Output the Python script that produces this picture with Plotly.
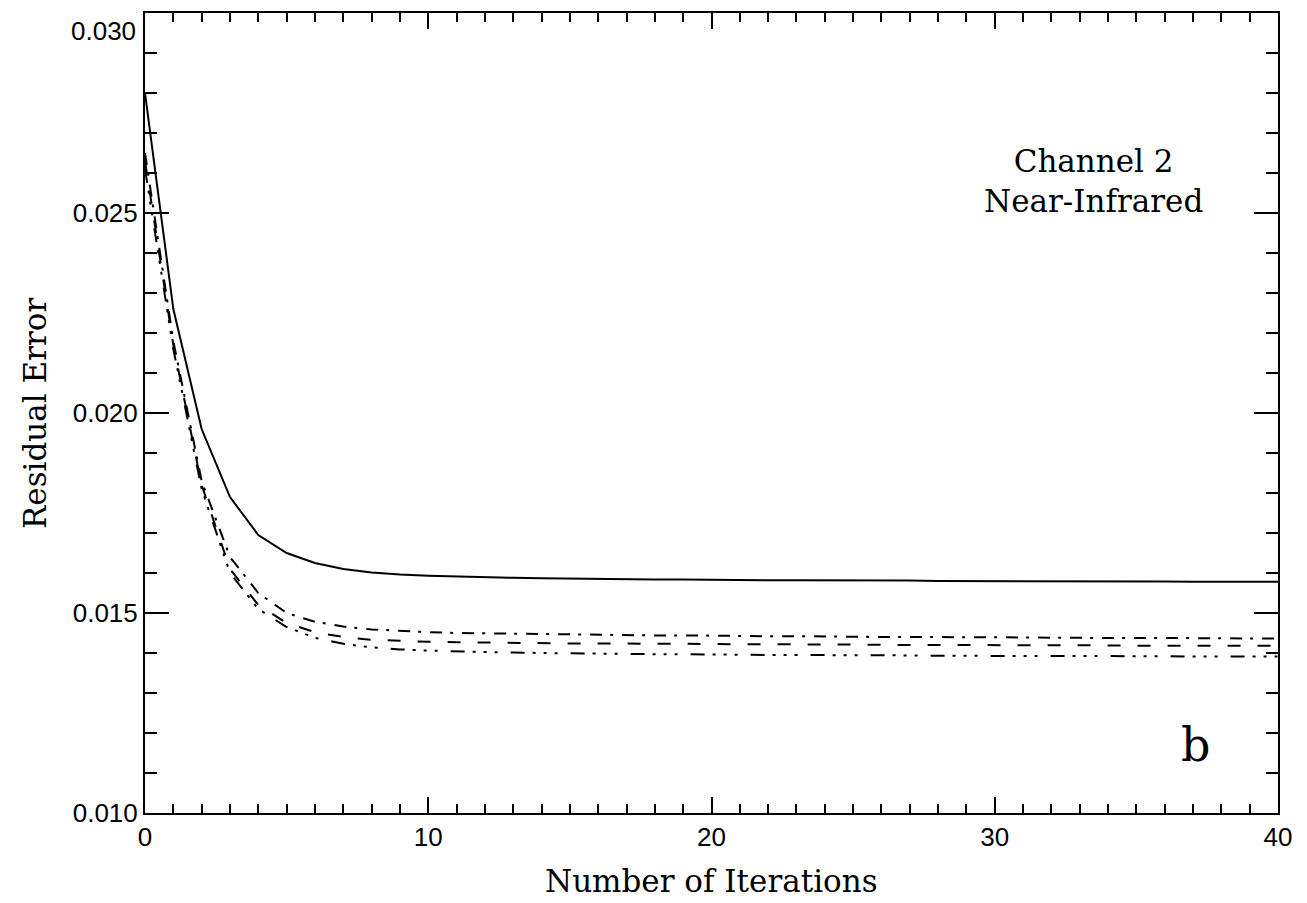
import plotly.graph_objects as go

iterations = list(range(0, 41))

solid_err = [0.02800, 0.02260, 0.01960, 0.01790, 0.01695, 0.01650, 0.01625, 0.01610, 0.01601, 0.01596,
             0.01593, 0.01591, 0.01589, 0.01588, 0.01587, 0.01586, 0.01585, 0.01585, 0.01584, 0.01584,
             0.01583, 0.01583, 0.01582, 0.01582, 0.01582, 0.01581, 0.01581, 0.01581, 0.01580, 0.01580,
             0.01580, 0.01580, 0.01579, 0.01579, 0.01579, 0.01579, 0.01579, 0.01578, 0.01578, 0.01578,
             0.01578]

dashdot_err = [0.02650, 0.02180, 0.01830, 0.01640, 0.01550, 0.01500, 0.01478, 0.01466, 0.01459, 0.01455,
               0.01452, 0.01450, 0.01449, 0.01448, 0.01447, 0.01446, 0.01445, 0.01445, 0.01444, 0.01444,
               0.01443, 0.01443, 0.01442, 0.01442, 0.01441, 0.01441, 0.01440, 0.01440, 0.01440, 0.01439,
               0.01439, 0.01439, 0.01438, 0.01438, 0.01438, 0.01438, 0.01437, 0.01437, 0.01437, 0.01436,
               0.01436]

dashed_err = [0.02630, 0.02170, 0.01820, 0.01610, 0.01520, 0.01475, 0.01452, 0.01440, 0.01433, 0.01430,
              0.01428, 0.01427, 0.01426, 0.01425, 0.01425, 0.01424, 0.01424, 0.01423, 0.01423, 0.01423,
              0.01422, 0.01422, 0.01422, 0.01421, 0.01421, 0.01421, 0.01420, 0.01420, 0.01420, 0.01420,
              0.01419, 0.01419, 0.01419, 0.01419, 0.01419, 0.01418, 0.01418, 0.01418, 0.01418, 0.01418,
              0.01418]

dash3dot_err = [0.02610, 0.02160, 0.01810, 0.01600, 0.01510, 0.01465, 0.01438, 0.01423, 0.01414, 0.01409,
                0.01406, 0.01404, 0.01402, 0.01401, 0.01400, 0.01399, 0.01398, 0.01398, 0.01397, 0.01397,
                0.01396, 0.01396, 0.01395, 0.01395, 0.01395, 0.01394, 0.01394, 0.01394, 0.01393, 0.01393,
                0.01393, 0.01393, 0.01392, 0.01392, 0.01392, 0.01392, 0.01392, 0.01391, 0.01391, 0.01391,
                0.01391]

x_ticks = [0, 10, 20, 30, 40]
y_ticks = [0.010, 0.015, 0.020, 0.025, 0.030]
y_tick_text = ["0.010", "0.015", "0.020", "0.025", "0.030"]

fig = go.Figure()

styles = [
    (solid_err, "solid"),
    (dashdot_err, "12px,8px,3px,9px"),
    (dashed_err, "13px,17px"),
    (dash3dot_err, "14px,8px,3px,8px,3px,8px,3px,13px"),
]
for ys, dash in styles:
    fig.add_trace(go.Scatter(x=iterations, y=ys, mode="lines",
                             line=dict(color="black", width=2, dash=dash),
                             showlegend=False, hoverinfo="skip"))

tick_font = dict(family="Liberation Sans, Arial, sans-serif", size=26, color="black")
serif = "DejaVu Serif, serif"

# the top label sits just below its tick in the reference, so it is drawn as an annotation
axis_text = y_tick_text[:-1] + [""]

fig.update_xaxes(range=[0, 40], tickvals=x_ticks, ticktext=[str(v) for v in x_ticks],
                 showline=True, linecolor="black", linewidth=2, mirror="ticks",
                 ticks="inside", ticklen=16, tickwidth=2, tickcolor="black",
                 minor=dict(dtick=1, ticks="inside", ticklen=9, tickwidth=2, tickcolor="black"),
                 showgrid=False, zeroline=False, tickfont=tick_font,
                 ticklabeloverflow="allow", automargin=False)
fig.update_yaxes(range=[0.010, 0.0300005], tickvals=y_ticks, ticktext=axis_text,
                 showline=True, linecolor="black", linewidth=2, mirror="ticks",
                 ticks="inside", ticklen=24, tickwidth=2, tickcolor="black",
                 minor=dict(dtick=0.001, tick0=0.010, ticks="inside", ticklen=12, tickwidth=2, tickcolor="black"),
                 showgrid=False, zeroline=False, tickfont=tick_font,
                 ticklabeloverflow="allow", automargin=False)

fig.add_annotation(text=y_tick_text[-1], xref="paper", yref="y", x=0, y=y_ticks[-1],
                   xanchor="right", yanchor="top", xshift=-7, yshift=-1, showarrow=False,
                   font=tick_font)
fig.add_annotation(text="Number of Iterations", xref="paper", yref="paper", x=0.5, y=0,
                   yshift=-68, showarrow=False, yanchor="middle",
                   font=dict(family=serif, size=31, color="black"))
fig.add_annotation(text="Residual Error", xref="paper", yref="paper", x=0, y=0.5,
                   xshift=-110, textangle=-90, showarrow=False, xanchor="center",
                   font=dict(family=serif, size=31, color="black"))
fig.add_annotation(text="Channel 2<br>Near-Infrared", x=33.5, y=0.0258, showarrow=False,
                   align="center", font=dict(family=serif, size=31, color="black"))
fig.add_annotation(text="b", x=37.1, y=0.0117, showarrow=False,
                   font=dict(family=serif, size=46, color="black"))

fig.update_layout(width=1307, height=903, plot_bgcolor="white", paper_bgcolor="white",
                  margin=dict(l=145, r=29, t=13, b=90, autoexpand=False))

fig.write_html("out.html")
